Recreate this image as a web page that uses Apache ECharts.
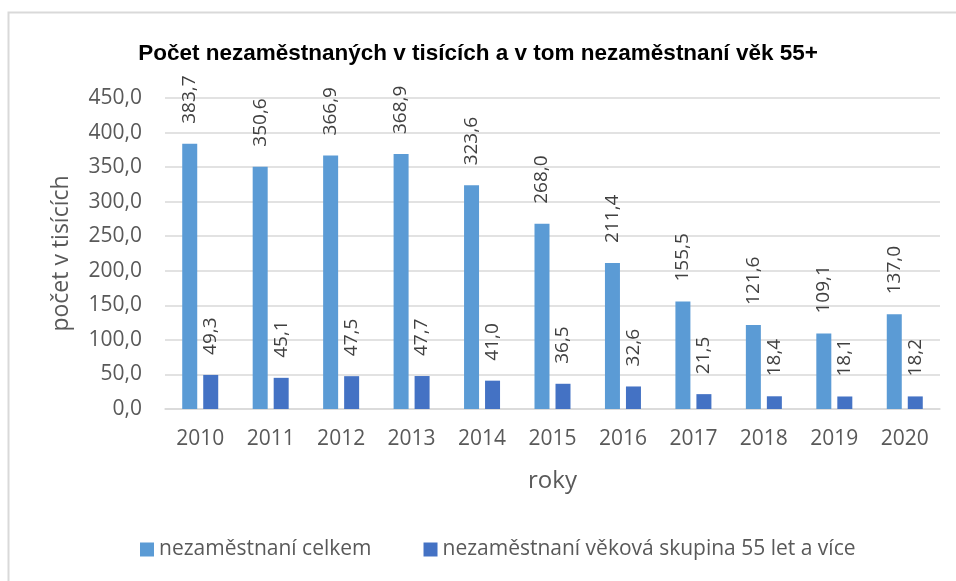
<!DOCTYPE html>
<html>
<head>
<meta charset="utf-8">
<script src="https://cdn.jsdelivr.net/npm/echarts@6/dist/echarts.min.js"></script>
<style>
  html, body { margin: 0; padding: 0; background: #fff; }
  #main { width: 956px; height: 581px; }
</style>
</head>
<body>
<div id="main"></div>
<script>
  // data
  var years = ['2010', '2011', '2012', '2013', '2014', '2015', '2016', '2017', '2018', '2019', '2020'];
  var celkem = [383.7, 350.6, 366.9, 368.9, 323.6, 268.0, 211.4, 155.5, 121.6, 109.1, 137.0];
  var vek55 = [49.3, 45.1, 47.5, 47.7, 41.0, 36.5, 32.6, 21.5, 18.4, 18.1, 18.2];
  var seriesNames = ['nezaměstnaní celkem', 'nezaměstnaní věková skupina 55 let a více'];

  var font = '"Open Sans", "Noto Sans", sans-serif';
  var fmt = function (v) { return v.toFixed(1).replace('.', ','); };

  var myChart = echarts.init(document.getElementById('main'));

  function barLabel() {
    return {
      show: true,
      position: 'top',
      rotate: 90,
      align: 'left',
      verticalAlign: 'middle',
      distance: 20,
      color: '#404040',
      fontFamily: font,
      fontSize: 19,
      formatter: function (p) { return fmt(p.value); }
    };
  }

  var option = {
    backgroundColor: '#fff',
    animation: false,
    color: ['#5B9BD5', '#4472C4'],
    title: {
      text: 'Počet nezaměstnaných v tisících a v tom nezaměstnaní věk 55+',
      left: 'center',
      top: 37,
      textStyle: {
        fontFamily: '"Liberation Sans", sans-serif',
        fontSize: 22.5,
        fontWeight: 'bold',
        color: '#000'
      }
    },
    graphic: [{
      type: 'rect',
      shape: { x: 8.5, y: 12.5, width: 1000, height: 600 },
      style: { fill: 'none', stroke: '#d9d9d9', lineWidth: 2 }
    }],
    legend: {
      bottom: 16,
      left: 135,
      itemGap: 52,
      itemWidth: 14,
      itemHeight: 14,
      icon: 'rect',
      textStyle: { fontFamily: font, fontSize: 21, color: '#595959' },
      data: seriesNames
    },
    grid: { left: 165, right: 16, top: 98, bottom: 172 },
    xAxis: {
      type: 'category',
      data: years,
      name: 'roky',
      nameLocation: 'middle',
      nameGap: 60,
      nameTextStyle: { fontFamily: font, fontSize: 24, color: '#595959' },
      axisLine: { lineStyle: { color: '#d9d9d9', width: 1.5 } },
      axisTick: { show: false },
      axisLabel: { fontFamily: font, fontSize: 21, color: '#595959', margin: 20 }
    },
    yAxis: {
      type: 'value',
      min: 0,
      max: 450,
      interval: 50,
      name: 'počet v tisících',
      nameLocation: 'middle',
      nameGap: 92,
      nameTextStyle: { fontFamily: font, fontSize: 23, color: '#595959' },
      axisLine: { show: false },
      axisTick: { show: false },
      splitLine: { lineStyle: { color: '#d9d9d9', width: 1.5 } },
      axisLabel: {
        fontFamily: font, fontSize: 21, color: '#595959', margin: 23,
        formatter: function (v) { return fmt(v); }
      }
    },
    series: [
      {
        name: seriesNames[0],
        type: 'bar',
        data: celkem,
        barWidth: 15,
        barGap: '40%',
        label: barLabel()
      },
      {
        name: seriesNames[1],
        type: 'bar',
        data: vek55,
        barWidth: 15,
        label: barLabel()
      }
    ]
  };
  myChart.setOption(option);
</script>
</body>
</html>
